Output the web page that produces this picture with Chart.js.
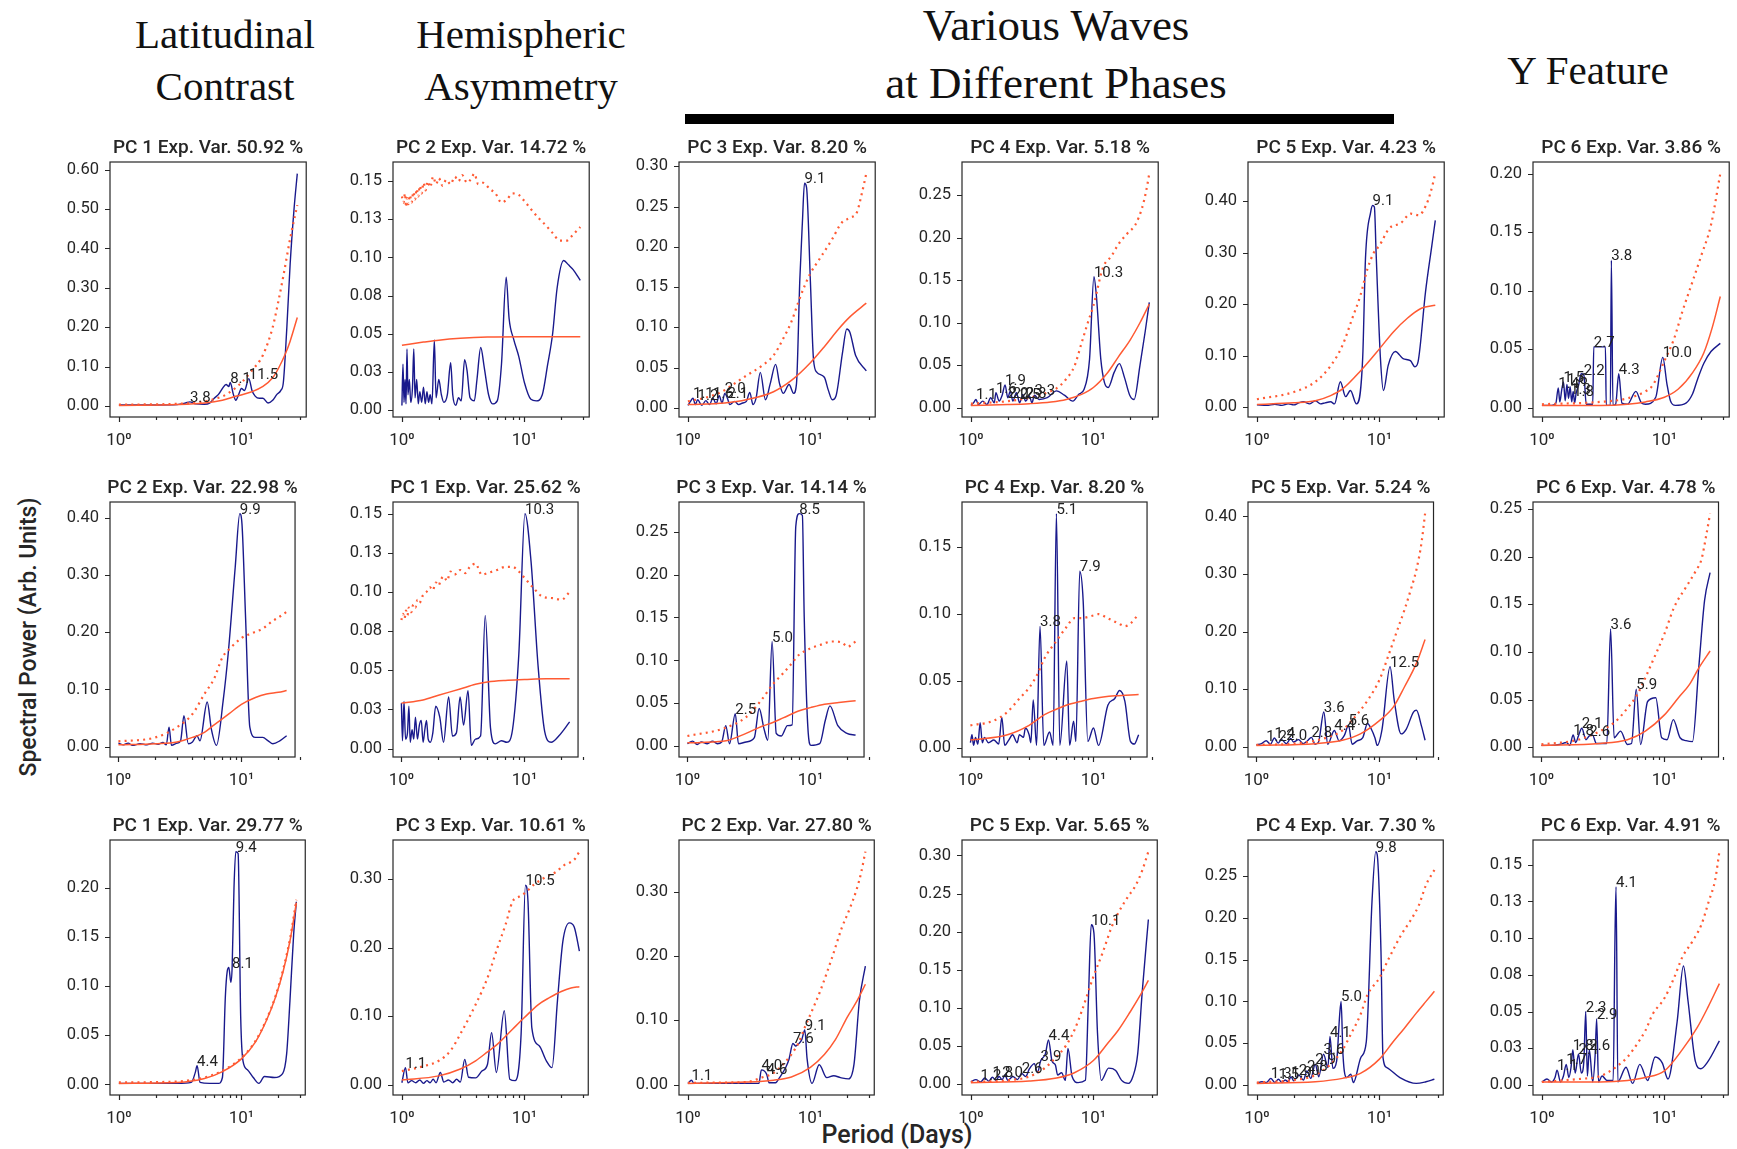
<!DOCTYPE html>
<html>
<head>
<meta charset="utf-8">
<script src="https://cdn.jsdelivr.net/npm/chart.js@4.4.1/dist/chart.umd.min.js"></script>
<style>
  body { margin: 0; background: #fff; width: 1737px; height: 1149px; overflow: hidden; position: relative; }
  canvas.panel { position: absolute; }
  .head { position: absolute; transform: translate(-50%, -50%); font-family: "Liberation Serif", serif; font-size: 41px; color: #111; white-space: nowrap; }
  .head.big { font-size: 45px; }
  .axlab { position: absolute; font-family: Roboto, sans-serif; font-size: 23px; font-weight: 500; color: #262626; white-space: nowrap; transform: translate(-50%, -50%); }
  #bar { position: absolute; left: 685px; top: 114px; width: 709px; height: 10px; background: #000; }
</style>
</head>
<body>
<div class="head" style="left:225px;top:34px">Latitudinal</div>
<div class="head" style="left:225px;top:86px">Contrast</div>
<div class="head" style="left:521px;top:34px">Hemispheric</div>
<div class="head" style="left:521px;top:86px">Asymmetry</div>
<div class="head big" style="left:1056px;top:25px">Various Waves</div>
<div class="head big" style="left:1056px;top:83px">at Different Phases</div>
<div class="head" style="left:1588px;top:70px">Y Feature</div>
<div id="bar"></div>
<div class="axlab" style="left:28px;top:637px;transform:translate(-50%,-50%) rotate(-90deg)">Spectral Power (Arb. Units)</div>
<div class="axlab" style="left:897px;top:1134px;font-size:25px">Period (Days)</div>
<script>
// ---- data: [period, power] pairs ----
const titles = [
  ['PC 1 Exp. Var. 50.92 %', 'PC 2 Exp. Var. 14.72 %', 'PC 3 Exp. Var. 8.20 %', 'PC 4 Exp. Var. 5.18 %', 'PC 5 Exp. Var. 4.23 %', 'PC 6 Exp. Var. 3.86 %'],
  ['PC 2 Exp. Var. 22.98 %', 'PC 1 Exp. Var. 25.62 %', 'PC 3 Exp. Var. 14.14 %', 'PC 4 Exp. Var. 8.20 %', 'PC 5 Exp. Var. 5.24 %', 'PC 6 Exp. Var. 4.78 %'],
  ['PC 1 Exp. Var. 29.77 %', 'PC 3 Exp. Var. 10.61 %', 'PC 2 Exp. Var. 27.80 %', 'PC 5 Exp. Var. 5.65 %', 'PC 4 Exp. Var. 7.30 %', 'PC 6 Exp. Var. 4.91 %']
];
const xTicks = [1, 2, 3, 4, 5, 6, 7, 8, 9, 10, 20, 30];

// row 1
const blue11 = [[1,.003],[2,.003],[3,.004],[3.5,.008],[3.8,.011],[4.2,.006],[5,.005],[5.5,.008],[6,.02],[6.5,.03],[7,.045],[7.5,.055],[7.9,.05],[8.1,.06],[8.6,.03],[9,.015],[9.5,.03],[10,.045],[10.6,.04],[11.5,.07],[12.2,.04],[13,.025],[14,.02],[15,.02],[16.5,.008],[18,.015],[19.5,.03],[21,.04],[22,.06],[23.5,.2],[25,.36],[26.9,.5],[28.6,.59]];
const solid11 = [[1,.002],[3,.004],[5,.008],[7,.015],[9,.025],[12,.036],[15,.05],[18,.072],[20,.095],[23,.135],[25,.165],[28.6,.225]];
const dotted11 = [[1,.004],[3,.006],[5,.012],[7,.025],[8,.035],[10,.06],[12,.088],[15,.13],[18,.2],[20,.265],[22,.33],[25,.425],[28.6,.51]];
const ticks11 = [0, .1, .2, .3, .4, .5, .6];
const peaks11 = [[3.8,.011,'3.8'],[8.1,.06,'8.1'],[11.5,.07,'11.5']];

const blue12 = [[1,.003],[1.02,.03],[1.04,.005],[1.06,.02],[1.08,.004],[1.1,.04],[1.12,.01],[1.15,.02],[1.18,.005],[1.22,.015],[1.25,.04],[1.28,.008],[1.32,.02],[1.36,.004],[1.4,.012],[1.45,.005],[1.5,.015],[1.55,.004],[1.6,.012],[1.65,.005],[1.7,.01],[1.76,.004],[1.84,.046],[1.9,.008],[2.0,.02],[2.1,.01],[2.2,.005],[2.35,.01],[2.5,.031],[2.6,.01],[2.75,.003],[2.9,.008],[3.05,.006],[3.25,.033],[3.4,.026],[3.6,.008],[3.9,.006],[4.1,.02],[4.4,.041],[4.7,.028],[5.1,.01],[5.5,.004],[6.0,.006],[6.5,.03],[7.1,.087],[7.5,.06],[8.2,.046],[9,.035],[10,.018],[11.3,.007],[12.5,.006],[14,.01],[15.5,.03],[17,.05],[18.5,.08],[20.9,.098],[23,.095],[25,.092],[28.6,.085]];
const solid12 = [[1,.0425],[1.5,.0445],[2,.0458],[3,.047],[5,.0478],[10,.048],[20,.048],[28.6,.048]];
const dotted12 = [[1,.14],[1.03,.136],[1.06,.142],[1.08,.133],[1.1,.139],[1.13,.135],[1.16,.141],[1.2,.136],[1.24,.143],[1.28,.138],[1.32,.145],[1.36,.14],[1.4,.147],[1.45,.142],[1.5,.149],[1.56,.144],[1.62,.15],[1.7,.146],[1.8,.153],[1.9,.148],[2.0,.152],[2.15,.147],[2.3,.151],[2.5,.148],[2.7,.153],[2.9,.15],[3.1,.154],[3.4,.149],[3.7,.152],[3.9,.155],[4.2,.148],[4.6,.149],[5.2,.145],[5.8,.142],[6.5,.136],[7.2,.138],[8,.142],[9,.141],[10,.137],[11.5,.131],[13,.126],[15,.121],[17,.116],[19.5,.111],[22,.111],[25,.115],[28.6,.12]];
const ticks12 = [0, .025, .05, .075, .1, .125, .15];
const peaks12 = [];

const blue13 = [[1,.003],[1.05,.008],[1.1,.012],[1.15,.004],[1.2,.01],[1.3,.003],[1.4,.009],[1.5,.004],[1.6,.012],[1.7,.005],[1.8,.015],[1.9,.006],[2.0,.018],[2.1,.012],[2.2,.004],[2.4,.008],[2.6,.004],[2.8,.006],[3.0,.008],[3.2,.019],[3.4,.004],[3.6,.012],[3.9,.044],[4.3,.01],[4.7,.03],[5.2,.054],[5.6,.03],[6.0,.018],[6.7,.029],[7.3,.018],[7.7,.03],[8.2,.16],[8.6,.23],[8.95,.279],[9.3,.274],[10,.157],[10.6,.06],[11.3,.044],[13,.038],[14,.022],[15.1,.01],[16.2,.015],[18.3,.069],[19.8,.098],[21,.094],[23.4,.065],[28.6,.046]];
const solid13 = [[1,.004],[2,.006],[3,.01],[5,.02],[7,.034],[10,.056],[13,.076],[17,.098],[21,.113],[28.6,.13]];
const dotted13 = [[1,.008],[1.5,.014],[2,.022],[2.5,.032],[3,.04],[4,.052],[5,.065],[6,.086],[7,.107],[8,.132],[9,.152],[10,.167],[12,.186],[15,.209],[18,.23],[21,.236],[24,.243],[26,.263],[28.6,.291]];
const ticks13 = [0, .05, .1, .15, .2, .25, .3];
const peaks13 = [[1.1,.012,'1.1'],[1.2,.01,'1.2'],[1.6,.012,'1.6'],[2.0,.018,'2.0'],[2.1,.012,'2.1'],[8.95,.279,'9.1']];

const blue14 = [[1,.003],[1.05,.006],[1.1,.01],[1.15,.004],[1.25,.008],[1.35,.004],[1.45,.012],[1.55,.006],[1.6,.018],[1.7,.008],[1.8,.015],[1.9,.027],[2.0,.012],[2.1,.02],[2.2,.008],[2.35,.018],[2.5,.006],[2.65,.016],[2.8,.008],[3.0,.014],[3.15,.006],[3.3,.015],[3.6,.01],[4.2,.012],[5.0,.02],[5.8,.015],[6.8,.008],[7.6,.016],[8.4,.022],[9.3,.057],[10.1,.154],[10.6,.13],[11.5,.057],[12.3,.03],[13.2,.024],[14.8,.042],[16.3,.052],[18,.035],[19.8,.015],[21.5,.01],[24,.05],[26.5,.09],[28.6,.124]];
const solid14 = [[1,.003],[2,.004],[3,.005],[4.5,.007],[6,.01],[8,.016],[10,.024],[13,.041],[16,.06],[20,.08],[24,.1],[28.6,.122]];
const dotted14 = [[1,.005],[2,.008],[3,.012],[4,.017],[5,.023],[6,.034],[7,.049],[8,.076],[9,.1],[10,.12],[12,.165],[14,.178],[16,.192],[19,.205],[22,.215],[25,.235],[27,.255],[28.6,.275]];
const ticks14 = [0, .05, .1, .15, .2, .25];
const peaks14 = [[1.1,.01,'1.1'],[1.6,.018,'1.6'],[1.9,.027,'1.9'],[2.0,.012,'2.0'],[2.2,.012,'2.2'],[2.5,.01,'2.5'],[2.8,.012,'2.8'],[3.3,.015,'3.3'],[10.1,.154,'10.3']];

const blue15 = [[1,.004],[1.2,.003],[1.4,.005],[1.6,.003],[1.8,.006],[2,.004],[2.2,.008],[2.4,.01],[2.7,.006],[3,.012],[3.3,.006],[3.6,.008],[4,.01],[4.3,.006],[4.8,.049],[5.3,.02],[5.8,.032],[6.5,.006],[7.3,.094],[7.7,.29],[8.5,.38],[8.8,.392],[9.1,.389],[9.4,.3],[10.2,.094],[10.8,.032],[11.8,.081],[13.5,.108],[15.6,.094],[17.9,.09],[19.5,.078],[20.7,.088],[23.8,.224],[26.8,.314],[28.6,.363]];
const solid15 = [[1,.005],[2,.008],[3,.012],[4,.022],[5,.035],[7,.07],[10,.113],[13,.146],[17,.173],[22,.192],[28.6,.198]];
const dotted15 = [[1,.015],[2,.029],[3,.049],[4,.08],[5,.12],[6,.172],[7,.217],[8,.269],[9,.3],[10,.314],[12,.347],[15,.358],[18,.376],[21,.373],[24,.392],[26,.415],[28.6,.454]];
const ticks15 = [0, .1, .2, .3, .4];
const peaks15 = [[8.8,.392,'9.1']];

const blue16 = [[1,.002],[1.2,.002],[1.3,.004],[1.36,.017],[1.4,.005],[1.45,.015],[1.5,.022],[1.55,.006],[1.6,.02],[1.65,.008],[1.7,.018],[1.75,.005],[1.8,.014],[1.85,.004],[1.9,.012],[2.0,.02],[2.09,.029],[2.2,.028],[2.3,.003],[2.5,.003],[2.6,.003],[2.65,.052],[3.3,.052],[3.35,.002],[3.62,.002],[3.69,.126],[3.8,.002],[4.0,.003],[4.24,.029],[4.5,.004],[5,.003],[5.85,.014],[6.5,.004],[7,.003],[8.5,.009],[9.7,.043],[10.5,.02],[11.2,.006],[12.3,.002],[15,.004],[17,.012],[18.6,.024],[21,.038],[24,.048],[28.6,.055]];
const solid16 = [[1,.002],[3,.002],[5,.003],[7,.005],[10,.009],[13,.016],[17,.03],[21,.047],[24.5,.068],[28.6,.095]];
const dotted16 = [[1,.003],[3,.005],[5,.008],[7,.014],[8,.019],[10,.04],[12,.059],[14,.082],[17,.108],[20,.13],[24,.156],[28.6,.2]];
const ticks16 = [0, .05, .1, .15, .2];
const peaks16 = [[1.36,.017,'1.4'],[1.5,.022,'1.5'],[1.6,.02,'1.6'],[1.7,.012,'1.3'],[1.8,.01,'1.8'],[2.2,.028,'2.2'],[2.65,.052,'2.7'],[3.69,.126,'3.8'],[4.24,.029,'4.3'],[9.7,.043,'10.0']];

// row 2
const blue21 = [[1,.006],[1.1,.003],[1.2,.006],[1.3,.002],[1.5,.005],[1.7,.003],[1.9,.006],[2.1,.004],[2.3,.007],[2.45,.003],[2.58,.034],[2.7,.002],[3.0,.006],[3.2,.01],[3.41,.054],[3.7,.005],[4.0,.008],[4.35,.019],[4.6,.01],[5.27,.078],[5.7,.03],[6.27,.002],[7.1,.08],[7.8,.162],[8.9,.314],[9.7,.408],[10.1,.39],[10.8,.227],[11.7,.034],[13,.016],[14.9,.016],[16.5,.01],[18,.005],[20.5,.01],[23.3,.019]];
const solid21 = [[1,.003],[2,.005],[3,.008],[4,.016],[5,.025],[6,.038],[8,.058],[10,.074],[13,.086],[16,.092],[20,.095],[23.3,.098]];
const dotted21 = [[1,.009],[2,.016],[3,.034],[4,.057],[5,.092],[6,.119],[7,.156],[8,.171],[10,.19],[12,.198],[15,.207],[18,.22],[20,.226],[23.3,.236]];
const ticks21 = [0, .1, .2, .3, .4];
const peaks21 = [[9.7,.408,'9.9']];

const blue22 = [[1,.029],[1.02,.005],[1.05,.03],[1.08,.006],[1.12,.01],[1.15,.027],[1.18,.004],[1.22,.012],[1.26,.006],[1.3,.02],[1.35,.006],[1.4,.015],[1.45,.018],[1.5,.004],[1.55,.012],[1.6,.018],[1.65,.006],[1.72,.004],[1.8,.01],[1.9,.027],[2.05,.02],[2.2,.004],[2.42,.033],[2.6,.008],[2.8,.01],[3.0,.033],[3.2,.015],[3.48,.037],[3.7,.002],[4.0,.006],[4.4,.008],[4.8,.085],[5.3,.013],[5.8,.003],[6.5,.005],[7.2,.004],[8,.012],[9,.06],[10.1,.15],[11.3,.12],[12.9,.053],[14.6,.011],[16.5,.004],[19,.008],[23.3,.017]];
const solid22 = [[1,.029],[1.5,.031],[2,.034],[3,.038],[4,.041],[5,.0425],[7,.0435],[10,.044],[15,.0445],[23.3,.0445]];
const dotted22 = [[1,.082],[1.03,.086],[1.06,.083],[1.09,.088],[1.12,.085],[1.15,.09],[1.2,.087],[1.25,.092],[1.3,.09],[1.35,.095],[1.4,.093],[1.5,.098],[1.6,.1],[1.7,.103],[1.8,.101],[1.9,.106],[2,.104],[2.1,.108],[2.2,.11],[2.35,.107],[2.5,.113],[2.7,.111],[3,.114],[3.3,.112],[3.6,.116],[4,.118],[4.5,.111],[5,.112],[6,.114],[7,.116],[8,.116],[9,.113],[10,.109],[12,.102],[14,.097],[17,.096],[20,.095],[23.3,.1]];
const ticks22 = [0, .025, .05, .075, .1, .125, .15];
const peaks22 = [[10.1,.15,'10.3']];

const blue23 = [[1,.003],[1.1,.006],[1.2,.002],[1.3,.005],[1.45,.003],[1.6,.006],[1.75,.003],[1.9,.005],[2.05,.024],[2.2,.003],[2.45,.038],[2.6,.003],[3.0,.005],[3.5,.01],[3.83,.044],[4.2,.02],[4.5,.007],[4.88,.122],[5.27,.015],[5.8,.012],[6.5,.024],[7.1,.025],[7.6,.256],[8.1,.271],[8.6,.269],[8.9,.151],[9.6,.015],[10.1,.001],[11.9,.003],[13.2,.03],[14.4,.047],[16.7,.024],[19.8,.015],[23.3,.013]];
const solid23 = [[1,.004],[2,.006],[3,.015],[4,.023],[5,.028],[6,.033],[8,.041],[10,.045],[13,.049],[17,.051],[23.3,.053]];
const dotted23 = [[1,.012],[2,.021],[3,.034],[4,.054],[5,.073],[6,.085],[7,.096],[8,.106],[10,.114],[12,.118],[15,.122],[18,.121],[20,.116],[23.3,.122]];
const ticks23 = [0, .05, .1, .15, .2, .25];
const peaks23 = [[2.45,.038,'2.5'],[4.88,.122,'5.0'],[8.1,.271,'8.5']];

const blue24 = [[1,.004],[1.03,.01],[1.06,.002],[1.1,.008],[1.15,.003],[1.2,.019],[1.25,.004],[1.3,.008],[1.4,.004],[1.55,.006],[1.7,.003],[1.8,.023],[1.9,.002],[2.05,.006],[2.2,.01],[2.4,.004],[2.5,.01],[2.7,.008],[2.8,.015],[3.0,.01],[3.1,.004],[3.24,.036],[3.45,.002],[3.68,.091],[3.95,.002],[4.4,.012],[4.7,.002],[5.0,.175],[5.33,.002],[6.07,.065],[6.4,.002],[6.9,.02],[7.2,.005],[7.74,.132],[8.25,.11],[9.0,.005],[10,.015],[11,.002],[13.1,.032],[14.9,.037],[16.3,.043],[18,.035],[20,.005],[21.5,.003],[23.3,.01]];
const solid24 = [[1,.006],[2,.01],[3,.017],[4,.025],[5,.029],[6,.032],[8,.035],[10,.037],[15,.039],[23.3,.04]];
const dotted24 = [[1,.017],[1.5,.02],[2,.027],[2.5,.037],[3,.045],[3.5,.055],[4,.067],[5,.08],[6,.09],[7,.097],[8,.097],[10,.099],[11,.1],[13,.097],[16,.093],[18,.091],[20,.093],[23.3,.1]];
const ticks24 = [0, .05, .1, .15];
const peaks24 = [[3.68,.091,'3.8'],[5.0,.175,'5.1'],[7.74,.132,'7.9']];

const blue25 = [[1,.003],[1.1,.005],[1.2,.01],[1.3,.004],[1.4,.015],[1.5,.006],[1.6,.012],[1.75,.005],[1.9,.014],[2.0,.008],[2.2,.012],[2.4,.005],[2.6,.01],[2.8,.016],[3.0,.004],[3.2,.008],[3.53,.06],[3.8,.004],[4.3,.028],[4.7,.01],[5.2,.02],[5.6,.037],[6.0,.004],[6.6,.01],[7.3,.015],[8.0,.04],[8.6,.03],[9.2,.015],[9.6,.002],[10.5,.03],[12.2,.139],[13.2,.08],[15,.022],[16.5,.03],[18.9,.06],[20,.063],[22,.035],[23.5,.011]];
const solid25 = [[1,.002],[3,.005],[5,.011],[7,.022],[10,.045],[13,.069],[16,.104],[20,.145],[23.5,.186]];
const dotted25 = [[1,.003],[2,.005],[3,.01],[4,.018],[5,.028],[6,.046],[7,.063],[8,.08],[10,.116],[12,.162],[14,.203],[16,.238],[18,.273],[20,.308],[22,.355],[23.5,.405]];
const ticks25 = [0, .1, .2, .3, .4];
const peaks25 = [[1.2,.01,'1.2'],[1.4,.015,'1.4'],[1.75,.012,'2.0'],[2.8,.016,'2.8'],[3.53,.06,'3.6'],[4.3,.028,'4.4'],[5.6,.037,'5.6'],[12.2,.139,'12.5']];

const blue26 = [[1,.002],[1.2,.002],[1.4,.003],[1.6,.005],[1.7,.002],[1.81,.013],[1.9,.005],[2.0,.012],[2.13,.02],[2.3,.008],[2.45,.012],[2.6,.013],[2.8,.004],[3.0,.004],[3.4,.004],[3.65,.124],[3.9,.01],[4.4,.017],[5,.003],[5.4,.004],[5.9,.061],[6.4,.003],[7.3,.048],[8.5,.052],[9.5,.01],[10.5,.008],[11.8,.029],[13.4,.01],[15,.007],[16.9,.006],[19,.083],[21.2,.154],[23.5,.183]];
const solid26 = [[1,.002],[3,.004],[5,.008],[7,.017],[10,.034],[13,.052],[16,.066],[19,.083],[23.5,.101]];
const dotted26 = [[1,.003],[2,.008],[3,.017],[4,.027],[5,.041],[6,.055],[7,.073],[8,.09],[10,.119],[12,.147],[15,.168],[18,.185],[20,.197],[22,.224],[23.5,.245]];
const ticks26 = [0, .05, .1, .15, .2, .25];
const peaks26 = [[1.81,.013,'1.8'],[2.13,.02,'2.1'],[2.45,.012,'2.6'],[3.65,.124,'3.6'],[5.9,.061,'5.9']];

// row 3
const blue31 = [[1,.001],[2,.001],[3,.001],[3.9,.002],[4.2,.012],[4.35,.019],[4.6,.002],[5.5,.001],[6.5,.001],[7.0,.007],[7.4,.09],[7.66,.115],[7.9,.119],[8.2,.104],[8.4,.119],[8.7,.2],[9.0,.237],[9.4,.235],[9.87,.068],[10.3,.024],[11.2,.015],[12.5,.007],[13.9,.001],[15.4,.008],[18.6,.007],[21.7,.011],[23.4,.031],[24.9,.085],[26.7,.153],[28.1,.186]];
const solid31 = [[1,.001],[3,.002],[5,.006],[7,.013],[10,.026],[13,.043],[16,.065],[19,.089],[22,.116],[25,.147],[28.1,.185]];
const dotted31 = [[1,.002],[3,.003],[5,.007],[7,.014],[10,.027],[13,.044],[16,.066],[19,.09],[22,.118],[25,.149],[28.1,.188]];
const ticks31 = [0, .05, .1, .15, .2];
const peaks31 = [[4.35,.019,'4.4'],[8.4,.119,'8.1'],[9.0,.237,'9.4']];

const blue32 = [[1,.003],[1.07,.025],[1.12,.003],[1.2,.006],[1.3,.003],[1.4,.007],[1.5,.002],[1.6,.006],[1.7,.003],[1.8,.008],[1.9,.003],[2.06,.018],[2.2,.004],[2.4,.007],[2.6,.003],[2.8,.008],[3.0,.004],[3.26,.037],[3.5,.011],[4.0,.01],[4.5,.02],[5.0,.03],[5.4,.076],[5.9,.018],[6.85,.108],[7.6,.008],[8.4,.006],[9.4,.074],[10.2,.291],[10.7,.267],[11.5,.083],[13.2,.057],[15.1,.035],[16.8,.025],[18.6,.122],[20.6,.209],[23.3,.236],[25.5,.23],[28.1,.195]];
const solid32 = [[1,.007],[2,.013],[3,.023],[4,.035],[5,.048],[6,.059],[8,.081],[10,.098],[13,.117],[16,.127],[20,.136],[24,.141],[28.1,.143]];
const dotted32 = [[1,.02],[1.5,.027],[2,.035],[2.5,.05],[3,.074],[4,.117],[5,.156],[6,.199],[7,.233],[8,.267],[9,.274],[10,.279],[12,.292],[15,.303],[18,.31],[21,.32],[24,.325],[26,.33],[28.1,.34]];
const ticks32 = [0, .1, .2, .3];
const peaks32 = [[1.07,.025,'1.1'],[10.2,.291,'10.5']];

const blue33 = [[1,.002],[1.07,.007],[1.12,.002],[1.5,.002],[2,.002],[2.5,.002],[3,.002],[3.5,.002],[3.8,.002],[3.98,.023],[4.4,.016],[4.6,.003],[5.2,.003],[5.6,.011],[6.3,.027],[6.7,.04],[7.2,.064],[7.6,.06],[7.97,.063],[8.5,.07],[9.0,.085],[9.4,.04],[10.3,.002],[11.8,.031],[13.6,.011],[15.5,.014],[17.6,.011],[20.5,.009],[22.7,.032],[25.1,.13],[28.1,.184]];
const solid33 = [[1,.002],[3,.004],[5,.007],[7,.012],[10,.027],[13,.047],[16,.07],[20,.105],[24,.13],[28.1,.156]];
const dotted33 = [[1,.003],[3,.004],[4,.011],[5,.018],[6,.032],[7,.047],[8,.065],[9,.089],[10,.109],[12,.145],[15,.197],[18,.243],[21,.274],[24,.305],[26,.33],[28.1,.362]];
const ticks33 = [0, .1, .2, .3];
const peaks33 = [[1.07,.007,'1.1'],[3.98,.023,'4.0'],[4.4,.016,'4.6'],[7.2,.064,'7.6'],[9.0,.085,'9.1']];

const blue34 = [[1,.003],[1.1,.006],[1.2,.003],[1.3,.008],[1.4,.004],[1.5,.009],[1.6,.005],[1.7,.01],[1.8,.006],[1.9,.012],[2.0,.005],[2.2,.01],[2.4,.006],[2.6,.014],[2.8,.01],[3.0,.02],[3.3,.027],[3.5,.015],[3.7,.03],[4.06,.04],[4.3,.058],[4.6,.03],[4.9,.025],[5.1,.012],[5.5,.015],[5.9,.005],[6.2,.047],[6.7,.01],[7.5,.002],[8.6,.005],[9.1,.11],[9.6,.209],[10.1,.198],[10.8,.067],[11.6,.005],[13.3,.021],[15.2,.018],[17,.005],[19.3,.001],[21,.01],[23,.04],[25,.12],[28.1,.216]];
const solid34 = [[1,.002],[3,.004],[5,.008],[7,.015],[10,.031],[13,.053],[16,.071],[20,.095],[24,.116],[28.1,.136]];
const dotted34 = [[1,.003],[2,.005],[3,.01],[4,.021],[5,.036],[6,.051],[7,.071],[8,.095],[10,.141],[12,.174],[14,.205],[16,.225],[19,.245],[22,.26],[25,.28],[28.1,.305]];
const ticks34 = [0, .05, .1, .15, .2, .25, .3];
const peaks34 = [[1.2,.006,'1.2'],[1.5,.009,'1.8'],[1.8,.01,'2.0'],[2.6,.014,'2.6'],[3.7,.03,'3.9'],[4.3,.058,'4.4'],[9.6,.209,'10.1']];

const blue35 = [[1,.002],[1.1,.004],[1.2,.003],[1.3,.008],[1.4,.003],[1.5,.007],[1.6,.003],[1.7,.006],[1.8,.004],[1.9,.01],[2.0,.005],[2.2,.012],[2.4,.006],[2.56,.017],[2.75,.008],[3.0,.025],[3.2,.01],[3.5,.037],[3.8,.021],[3.95,.058],[4.17,.02],[4.48,.029],[4.74,.084],[4.87,.1],[5.04,.037],[5.4,.009],[5.84,.013],[6.13,.003],[7.06,.033],[7.82,.052],[8.7,.219],[9.34,.279],[9.6,.275],[10.3,.16],[10.7,.033],[11.5,.021],[14.7,.009],[20,.002],[24,.004],[28.1,.007]];
const solid35 = [[1,.002],[3,.004],[5,.008],[7,.014],[10,.031],[13,.052],[16,.068],[20,.086],[24,.1],[28.1,.112]];
const dotted35 = [[1,.003],[2,.006],[3,.012],[4,.025],[5,.042],[6,.064],[7,.084],[8,.108],[10,.128],[12,.152],[15,.179],[18,.197],[21,.215],[24,.239],[28.1,.257]];
const ticks35 = [0, .05, .1, .15, .2, .25];
const peaks35 = [[1.3,.008,'1.3'],[1.5,.007,'1.5'],[1.9,.01,'1.9'],[2.2,.012,'2.0'],[2.56,.017,'2.8'],[3.0,.025,'2.9'],[3.5,.037,'3.6'],[3.95,.058,'4.1'],[4.87,.1,'5.0'],[9.34,.279,'9.8']];

const blue36 = [[1,.002],[1.1,.004],[1.2,.002],[1.28,.005],[1.33,.01],[1.42,.002],[1.5,.006],[1.58,.014],[1.66,.005],[1.73,.012],[1.79,.024],[1.87,.008],[1.99,.021],[2.1,.008],[2.2,.016],[2.28,.05],[2.35,.006],[2.44,.024],[2.6,.002],[2.72,.02],[2.8,.045],[2.9,.002],[3.1,.006],[3.4,.003],[3.82,.003],[3.95,.1],[4.03,.135],[4.17,.002],[4.86,.012],[5.5,.001],[6.3,.014],[7.3,.003],[8.4,.019],[9.6,.015],[10.7,.004],[12.7,.043],[14.3,.081],[15.6,.057],[17.9,.016],[19.8,.011],[22.7,.016],[28.1,.03]];
const solid36 = [[1,.002],[3,.002],[5,.003],[7,.005],[10,.0095],[14,.024],[18.5,.039],[22.7,.053],[28.1,.069]];
const dotted36 = [[1,.002],[2,.004],[3,.006],[4,.012],[5,.019],[6,.028],[7,.037],[8,.048],[10,.059],[12,.073],[14,.087],[17,.098],[20,.109],[23,.125],[26,.14],[28.1,.159]];
const ticks36 = [0, .025, .05, .075, .1, .125, .15];
const peaks36 = [[1.33,.01,'1.1'],[1.58,.014,'1.7'],[1.79,.024,'1.8'],[1.99,.021,'2.1'],[2.28,.05,'2.3'],[2.44,.024,'2.6'],[2.8,.045,'2.9'],[4.03,.135,'4.1']];

// ---- layout (px, full size) ----
const colLeft = [110, 393, 679, 962, 1248, 1533];
const rowTop = [162, 502, 840];
const boxW = 199, boxH = 255;
const padL = 70, padT = 40, padR = 5, padB = 40;

const panels = [
  [blue11, solid11, dotted11, ticks11, peaks11], [blue12, solid12, dotted12, ticks12, peaks12], [blue13, solid13, dotted13, ticks13, peaks13],
  [blue14, solid14, dotted14, ticks14, peaks14], [blue15, solid15, dotted15, ticks15, peaks15], [blue16, solid16, dotted16, ticks16, peaks16],
  [blue21, solid21, dotted21, ticks21, peaks21], [blue22, solid22, dotted22, ticks22, peaks22], [blue23, solid23, dotted23, ticks23, peaks23],
  [blue24, solid24, dotted24, ticks24, peaks24], [blue25, solid25, dotted25, ticks25, peaks25], [blue26, solid26, dotted26, ticks26, peaks26],
  [blue31, solid31, dotted31, ticks31, peaks31], [blue32, solid32, dotted32, ticks32, peaks32], [blue33, solid33, dotted33, ticks33, peaks33],
  [blue34, solid34, dotted34, ticks34, peaks34], [blue35, solid35, dotted35, ticks35, peaks35], [blue36, solid36, dotted36, ticks36, peaks36]
];

const NAVY = 'rgba(0,0,128,0.9)';
const ORANGE = '#ff5a33';
const INK = '#262626';

// 2-decimal tick text, rounding halves up like the original (0.075 -> 0.08)
const fmt = v => (Math.round(v * 1000) / 1000 + 1e-9).toFixed(2);

// box frame, tick marks, title and peak labels
const framePlugin = {
  id: 'frame',
  afterDraw(chart, args, opts) {
    const { ctx, chartArea: a, scales: { x, y } } = chart;
    ctx.save();
    ctx.strokeStyle = INK;
    ctx.lineWidth = 1.2;
    ctx.strokeRect(a.left, a.top, a.right - a.left, a.bottom - a.top);
    ctx.beginPath();
    y.ticks.forEach(t => {
      const py = Math.round(y.getPixelForValue(t.value)) + 0.5;
      ctx.moveTo(a.left - 5, py); ctx.lineTo(a.left, py);
    });
    x.ticks.forEach(t => {
      const px = Math.round(x.getPixelForValue(t.value)) + 0.5;
      const len = (t.value === 1 || t.value === 10) ? 5 : 3;
      ctx.moveTo(px, a.bottom); ctx.lineTo(px, a.bottom + len);
    });
    ctx.stroke();

    ctx.fillStyle = INK;
    ctx.font = '500 19px Roboto';
    ctx.textAlign = 'center';
    ctx.textBaseline = 'alphabetic';
    ctx.fillText(opts.title, (a.left + a.right) / 2, a.top - 9);

    ctx.font = '15px Roboto';
    ctx.fillStyle = '#222';
    ctx.textAlign = 'left';
    opts.peaks.forEach(([px, pw, txt]) => {
      ctx.fillText(txt, x.getPixelForValue(px), y.getPixelForValue(pw));
    });
    ctx.restore();
  }
};

panels.forEach(([blue, solid, dotted, yTicks, peaks], i) => {
  const row = Math.floor(i / 6), col = i % 6;
  const cv = document.createElement('canvas');
  cv.className = 'panel';
  cv.width = padL + boxW + padR;
  cv.height = padT + boxH + padB;
  cv.style.left = (colLeft[col] - padL) + 'px';
  cv.style.top = (rowTop[row] - padT) + 'px';
  document.body.appendChild(cv);

  // matplotlib-style autoscale: data limits plus 5% margins
  const all = blue.concat(solid, dotted);
  const xs = all.map(p => Math.log10(p[0])), ys = all.map(p => p[1]);
  const xlo = Math.min(...xs), xhi = Math.max(...xs);
  const ylo = Math.min(...ys), yhi = Math.max(...ys);
  const xm = (xhi - xlo) * 0.05, ym = (yhi - ylo) * 0.05;

  new Chart(cv, {
    type: 'line',
    data: {
      datasets: [
        { data: dotted, borderColor: ORANGE, borderWidth: 2.2, borderDash: [2, 4.2], cubicInterpolationMode: 'monotone', pointRadius: 0 },
        { data: solid, borderColor: ORANGE, borderWidth: 1.5, cubicInterpolationMode: 'monotone', pointRadius: 0 },
        { data: blue, borderColor: NAVY, borderWidth: 1.4, cubicInterpolationMode: 'monotone', pointRadius: 0 }
      ]
    },
    options: {
      responsive: false,
      animation: false,
      devicePixelRatio: 1,
      layout: { padding: { left: 0, top: padT, right: padR, bottom: 0 } },
      plugins: { legend: { display: false }, tooltip: { enabled: false }, frame: { title: titles[row][col], peaks } },
      scales: {
        x: {
          type: 'logarithmic',
          min: Math.pow(10, xlo - xm),
          max: Math.pow(10, xhi + xm),
          afterBuildTicks: s => { s.ticks = xTicks.map(v => ({ value: v })); },
          afterFit: s => { s.height = padB; },
          grid: { display: false, drawTicks: false },
          border: { display: false },
          ticks: {
            autoSkip: false, maxRotation: 0, padding: 14,
            color: INK, font: { family: 'Roboto', size: 17 },
            callback: v => v === 1 ? '10\u2070' : v === 10 ? '10\u00b9' : ''
          }
        },
        y: {
          min: ylo - ym,
          max: yhi + ym,
          afterBuildTicks: s => { s.ticks = yTicks.map(v => ({ value: v })); },
          afterFit: s => { s.width = padL; },
          grid: { display: false, drawTicks: false },
          border: { display: false },
          ticks: {
            autoSkip: false, padding: 11,
            color: INK, font: { family: 'Roboto', size: 16.5 },
            callback: v => fmt(v)
          }
        }
      }
    },
    plugins: [framePlugin]
  });
});
</script>
</body>
</html>
